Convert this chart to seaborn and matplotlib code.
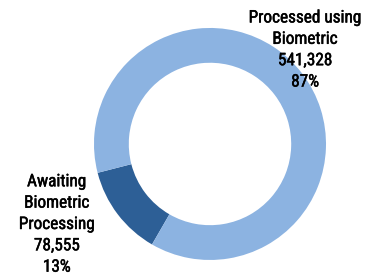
import matplotlib
matplotlib.use('Agg')
import matplotlib.pyplot as plt
import matplotlib.patheffects as pe
from matplotlib import font_manager
import seaborn as sns

## data
categories = ['Awaiting\nBiometric\nProcessing', 'Processed using\nBiometric']
values = [78555, 541328]
colors = ['#2D5F96', '#8CB3E1']

sns.set_theme(style='white')

# prefer a condensed face like the original, else fall back to Liberation Sans
installed = {f.name for f in font_manager.fontManager.ttflist}
narrow = [n for n in ['Liberation Sans Narrow', 'Roboto Condensed', 'Open Sans Condensed']
          if n in installed]
if narrow:
    family, fsize, lsp = narrow[0], 12.4, 1.53
else:
    family, fsize, lsp = 'Liberation Sans', 11.5, 1.31
plt.rcParams['font.family'] = [family, 'DejaVu Sans']

fig = plt.figure(figsize=(3.65, 2.79), dpi=100)
ax = fig.add_axes([0, 0, 1, 1])

wedges, _ = ax.pie(values, colors=colors, startangle=194.4, counterclock=True,
                   wedgeprops=dict(width=0.30, edgecolor='none'))

total = sum(values)
label_pos = [(-1.32, -0.694), (0.82, 0.81)]  # data-label anchors (pie units)
for name, v, (x, y) in zip(categories, values, label_pos):
    txt = '{}\n{:,}\n{:.0f}%'.format(name, v, v / total * 100)
    ax.text(x, y, txt, ha='center', va='center', fontsize=fsize,
            color='black', linespacing=lsp,
            path_effects=[pe.withStroke(linewidth=0.35, foreground='black')])  # slightly heavier, like the original

ax.set_xlim(-1.810, 1.336)
ax.set_ylim(-1.164, 1.241)
ax.axis('off')

fig.savefig('out.png', dpi=100, facecolor='white')
